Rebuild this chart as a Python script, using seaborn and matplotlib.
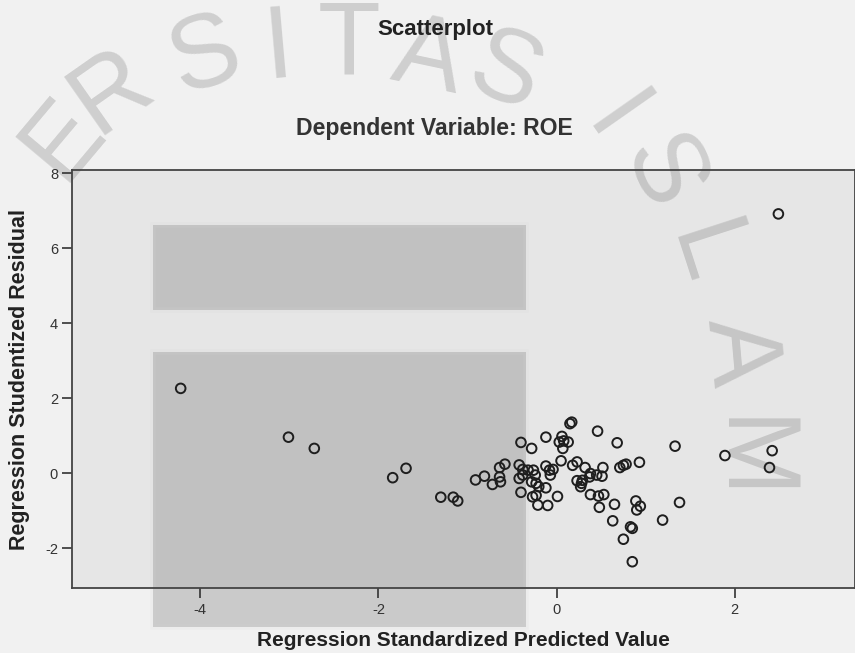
import numpy as np
import pandas as pd
import seaborn as sns
import matplotlib.pyplot as plt
from matplotlib.patches import Rectangle

# Werte
pred = [-4.22, -3.01, -2.72, -1.84, -1.69, -1.30, -1.16, -1.11, -0.91, -0.81,
        -0.72, -0.64, -0.58, -0.64, -0.63, -0.40, -0.28, -0.12, -0.42, -0.38,
        -0.32, -0.42, -0.38, -0.40, -0.26, -0.24, -0.28, -0.23, -0.20, -0.27,
        -0.23, -0.21, -0.12, -0.12, -0.08, -0.04, -0.07, -0.10, 0.01, 0.05,
        0.03, 0.08, 0.13, 0.07, 0.06, 0.15, 0.17, 0.18, 0.23, 0.32,
        0.23, 0.28, 0.29, 0.27, 0.38, 0.37, 0.45, 0.51, 0.52, 0.38,
        0.47, 0.53, 0.48, 0.46, 0.68, 0.65, 0.71, 0.75, 0.78, 0.93,
        0.63, 0.75, 0.83, 0.85, 0.85, 0.89, 0.94, 0.90, 1.19, 1.33,
        1.38, 1.89, 2.42, 2.39, 2.49]
resid = [2.26, 0.96, 0.66, -0.12, 0.13, -0.64, -0.64, -0.74, -0.18, -0.08,
         -0.30, 0.15, 0.24, -0.10, -0.23, 0.82, 0.66, 0.96, 0.22, 0.10,
         0.08, -0.14, -0.05, -0.51, 0.08, -0.05, -0.23, -0.27, -0.36, -0.63,
         -0.59, -0.85, -0.39, 0.19, 0.08, 0.10, -0.05, -0.86, -0.62, 0.33,
         0.83, 0.86, 0.83, 0.66, 0.98, 1.32, 1.36, 0.21, 0.30, 0.15,
         -0.20, -0.27, -0.19, -0.36, -0.01, -0.10, -0.05, -0.08, 0.15, -0.57,
         -0.61, -0.57, -0.91, 1.12, 0.81, -0.83, 0.15, 0.21, 0.24, 0.29,
         -1.27, -1.76, -1.43, -1.47, -2.36, -0.74, -0.88, -0.98, -1.25, 0.72,
         -0.78, 0.47, 0.60, 0.15, 6.91]
xticks = [-4, -2, 0, 2]
yticks = [-2, 0, 2, 4, 6, 8]

daten = pd.DataFrame({'pred': pred, 'resid': resid})

sns.set_style('white')
schrift = ['Liberation Sans Narrow', 'Liberation Sans', 'DejaVu Sans']
plt.rcParams['font.family'] = schrift
plt.rcParams['axes.unicode_minus'] = False

W, H = 855, 653
fig = plt.figure(figsize=(W / 100, H / 100), dpi=100, facecolor='#f1f1f1')
pos = [72 / W, 1 - 588 / H, 1 - 72 / W, (588 - 170) / H]

# Hintergrund der Plotflaeche
fig.add_artist(Rectangle((pos[0], pos[1]), pos[2], pos[3], transform=fig.transFigure,
                         facecolor='#e6e6e6', edgecolor='none', zorder=-3))

# Wasserzeichen (Buchstaben im Bogen + Kaesten)
wz = [('E', 64, 140, 50), ('R', 112, 92, 35), ('S', 205, 58, 18), ('I', 278, 50, 5),
      ('T', 349, 48, 0), ('A', 428, 60, -12), ('S', 504, 75, -22),
      ('I', 612, 122, -55), ('S', 660, 173, -65), ('L', 703, 255, -72),
      ('A', 737, 352, -85), ('M', 746, 460, -90)]
for (b, px, py, rot) in wz:
    fig.text(px / W, 1 - py / H, b, ha='center', va='center', rotation=rot,
             rotation_mode='anchor', fontsize=74, family=['Liberation Sans', 'DejaVu Sans'],
             color='black', alpha=0.14, zorder=-2)
for (x0, y0, x1, y1) in [(153, 225, 526, 310), (153, 352, 526, 627)]:
    fig.add_artist(Rectangle((x0 / W, 1 - y1 / H), (x1 - x0) / W, (y1 - y0) / H,
                             transform=fig.transFigure, facecolor='black', alpha=0.16,
                             edgecolor='#d6d6d6', linewidth=4, zorder=-1))

ax = fig.add_axes(pos)
ax.set_facecolor('none')

sns.scatterplot(ax=ax, data=daten, x='pred', y='resid', marker='o', s=48,
                facecolor='none', edgecolor='#1e1e1e', linewidth=1.4, zorder=3)

ax.set_xlim(-5.44, 3.35)
ax.set_ylim(-3.06, 8.08)
ax.set_xticks(xticks)
ax.set_yticks(yticks)
ax.tick_params(axis='both', direction='out', length=7, width=1.2, color='#333333',
               labelsize=10.5, labelcolor='#333333', bottom=True, left=True)
ax.tick_params(axis='x', pad=4)
ax.tick_params(axis='y', pad=3)
for sp in ax.spines.values():
    sp.set_color('#444444')
    sp.set_linewidth(1.3)

ax.set_xlabel('Regression Standardized Predicted Value', fontsize=15,
              fontweight='bold', color='#222222')
ax.set_ylabel('Regression Studentized Residual', fontsize=15.5,
              fontweight='bold', color='#222222')
ax.xaxis.set_label_coords(0.5, (588 - 641) / 418)
ax.xaxis.label.set_va('center')
ax.yaxis.set_label_coords((20 - 72) / 783, 0.5)
ax.yaxis.label.set_va('center')

fig.text(435 / W, 1 - 29 / H, 'Scatterplot', ha='center', va='center',
         fontsize=16, fontweight='bold', color='#222222')
fig.text(434 / W, 1 - 129 / H, 'Dependent Variable: ROE', ha='center', va='center',
         fontsize=16.6, fontweight='bold', color='#333333')

fig.savefig('out.png', dpi=100, facecolor=fig.get_facecolor())
